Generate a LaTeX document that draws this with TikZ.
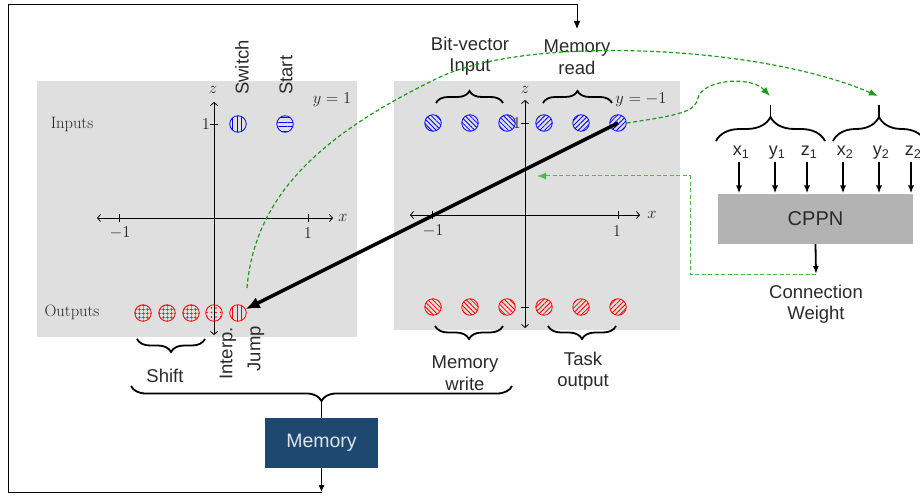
\RequirePackage{fix-cm}
\documentclass[tikz,border=0pt]{standalone}
\usepackage{fontspec}
\newfontfamily\hv{Liberation Sans}
\usetikzlibrary{patterns,patterns.meta,decorations.pathreplacing,arrows.meta,calc}
\definecolor{panel}{HTML}{DFDFDF}
\definecolor{memblue}{HTML}{1F4870}
\definecolor{cppngray}{HTML}{B3B3B3}
\definecolor{dkgreen}{HTML}{1E9A1E}
\definecolor{ltgreen}{HTML}{4DB84D}
\definecolor{txt}{HTML}{2A2A2A}
\begin{document}
\begin{tikzpicture}[x=1pt,y=-1pt,
  sans/.style={font=\hv\fontsize{18.5}{21.5}\selectfont, text=txt, inner sep=0pt, align=center},
  serif/.style={font=\fontsize{16.5}{19}\selectfont, text=black!85, inner sep=0pt},
  axis/.style={line width=0.8pt, {Straight Barb[length=3pt,width=7pt]}-{Straight Barb[length=3pt,width=7pt]}},
  tickmark/.style={line width=0.7pt},
  dotnode/.style={circle, minimum size=16.5pt, inner sep=0pt, line width=0.8pt},
  inb/.style={dotnode, draw=blue, pattern color=blue},
  outr/.style={dotnode, draw=red, pattern color=red},
  vlines/.style={pattern={Lines[angle=90,distance=4.6pt,line width=0.8pt,xshift=2.3pt]}},
  hlines/.style={pattern={Lines[angle=0,distance=4.6pt,line width=0.8pt,yshift=2.3pt]}},
  nelines/.style={pattern={Lines[angle=45,distance=3.4pt,line width=0.8pt]}},
  nwlines/.style={pattern={Lines[angle=-45,distance=3.4pt,line width=0.8pt]}},
  gridpat/.style={pattern={Hatch[angle=0,distance=4pt,line width=0.6pt]}},
  dotpat/.style={pattern={Dots[distance=4.5pt,radius=0.9pt]}},
  bracedeco/.style={decorate, decoration={brace, amplitude=#1}, line width=1.8pt},
  arr/.style={line width=1.8pt, -{Latex[length=8pt,width=6pt]}},
  gdash/.style={dkgreen, line width=1.2pt, dash pattern=on 4pt off 2.5pt, -{Latex[length=9pt,width=7pt]}},
  ldash/.style={ltgreen, line width=1pt, dash pattern=on 4pt off 2.5pt, -{Latex[length=9pt,width=7pt]}},
]
\useasboundingbox (0,0) rectangle (920,497);

% panels
\fill[panel] (37,81) rectangle (357,337);
\fill[panel] (394,81) rectangle (680,330);

% left axes
\draw[axis] (97,218) -- (333,218);
\draw[axis] (214,335) -- (214,102);
\draw[tickmark] (119,214) -- (119,222);
\draw[tickmark] (308,214) -- (308,222);
\draw[tickmark] (210,124) -- (218,124);
\node[serif] (lz) at (213,90) {$z$};
\node[serif] (lx) at (343,218) {$x$};
\node[serif] (lm1) at (120,233) {$-1$};
\node[serif] (lp1) at (308,233) {$1$};
\node[serif] (lz1) at (206,124) {$1$};
\node[serif] (ly) at (332,100) {$y=1$};
\node[serif] (inl) at (72,124) {Inputs};
\node[serif] (outl) at (72,312) {Outputs};

% right axes
\draw[axis] (410,215) -- (640,215);
\draw[axis] (525,328) -- (525,100);
\draw[tickmark] (432,211) -- (432,219);
\draw[tickmark] (618,211) -- (618,219);
\draw[tickmark] (521,123) -- (529,123);
\draw[tickmark] (521,307) -- (529,307);
\node[serif] (rz) at (525,90) {$z$};
\node[serif] (rx) at (652,215) {$x$};
\node[serif] (rm1) at (433,231) {$-1$};
\node[serif] (rp1) at (617,231) {$1$};
\node[serif] (rz1) at (517,123) {$1$};
\node[serif] (ry) at (641,100) {$y=-1$};

% left circles
\node[inb, vlines] (li1) at (238,124) {};
\node[inb, hlines] (li2) at (285,124) {};
\node[outr, gridpat] (lo1) at (143,313) {};
\node[outr, gridpat] (lo2) at (167,313) {};
\node[outr, gridpat] (lo3) at (191,313) {};
\node[outr, dotpat] (lo4) at (214,313) {};
\node[outr, vlines] (lo5) at (238,313) {};

% right circles
\foreach \i/\x in {1/433,2/470,3/507}{
  \node[inb, nwlines] (ri\i) at (\x,123) {};
  \node[outr, nwlines] (ro\i) at (\x,307) {};
}
\foreach \i/\x in {4/544,5/581,6/618}{
  \node[inb, nelines] (ri\i) at (\x,123) {};
  \node[outr, nelines] (ro\i) at (\x,307) {};
}

% rotated labels
\node[sans, rotate=90, anchor=west] (sw) at (242,95) {Switch};
\node[sans, rotate=90, anchor=west] (st) at (286,95) {Start};
\node[sans, rotate=90, anchor=east] (ip) at (228,327) {Interp.};
\node[sans, rotate=90, anchor=east] (jp) at (256,326) {Jump};

% braces (left)
\draw[bracedeco=13pt] (205,339) -- (137,339);
\node[sans] (shift) at (165,376) {Shift};

% braces (right)
\draw[bracedeco=12pt] (436,103) -- (503,103);
\draw[bracedeco=12pt] (543,103) -- (612,103);
\node[sans] (bv) at (470,56) {Bit-vector\\Input};
\node[sans] (mr) at (577,57) {Memory\\read};
\draw[bracedeco=13pt] (503,326) -- (435,326);
\draw[bracedeco=13pt] (616,326) -- (548,326);
\node[sans] (mw) at (465,373) {Memory\\write};
\node[sans] (to) at (583,371) {Task\\output};

% memory
\node[fill=memblue, minimum width=113pt, minimum height=50pt, inner sep=0pt,
      font=\hv\fontsize{19.5}{22}\selectfont, text=white!85!memblue] (mem) at (321.5,443) {Memory};
\draw[bracedeco=15pt] (512,386) -- (131,386);
\coordinate (btip) at (321.5,400);
\draw[line width=1.8pt] (btip) -- (mem.north);
\coordinate (lb) at (321.5,492);
\coordinate (mrtop) at (577,29);
\draw[line width=1pt, -{Latex[length=7pt,width=6pt]}] (mem.south) -- (lb);
\draw[line width=1pt, -{Latex[length=8pt,width=7pt]}] (lb) -- (8,492) -- (8,5) -- (577,5) -- (mrtop);

% CPPN
\node[fill=cppngray, minimum width=195pt, minimum height=50pt, inner sep=0pt,
      font=\hv\fontsize{20}{23}\selectfont, text=txt] (cppn) at (815.5,219) {CPPN};
\draw[bracedeco=24pt] (716,141) -- (825,141);
\draw[line width=1.8pt] (770.5,118) -- (770.5,105);
\draw[bracedeco=24pt] (833,141) -- (925,141);
\draw[line width=1.8pt] (879,118) -- (879,105);
\coordinate (b1tip) at (770,96);
\coordinate (b2tip) at (878,96);
\foreach \n/\x/\l/\s in {x1/741/x/1, y1/777/y/1, z1/809/z/1, x2/845/x/2, y2/881/y/2, z2/913/z/2}{
  \node[font=\hv\fontsize{18}{20}\selectfont, text=txt, inner sep=0pt, anchor=base] (l\n) at (\x,156) {\l\textsubscript{\s}};
  \draw[arr] (\x-2,162) -- (\x-2,193.5);
}
\coordinate (cwtop) at (816,274);
\draw[arr] (cppn.south) -- (cwtop);
\node[sans] (cw) at (816,304) {Connection\\Weight};

% green dashed connectors
\coordinate (g1s) at (247,288);
\coordinate (tgt) at (537,176);
\draw[gdash] (g1s) .. controls (255,190) and (330,130) .. (440,77)
  .. controls (530,35) and (760,45) .. (b2tip);
\draw[gdash] (ri6.east) .. controls (680,115) and (695,112) .. (698,98)
  .. controls (702,80) and (750,75) .. (b1tip);
\draw[ldash] (cwtop) -| (690,176) -- (tgt);

% thick black arrow
\draw[line width=3.5pt, -{Latex[length=14pt,width=12pt]}] (ri6.center) -- (lo5);
\end{tikzpicture}
\end{document}
